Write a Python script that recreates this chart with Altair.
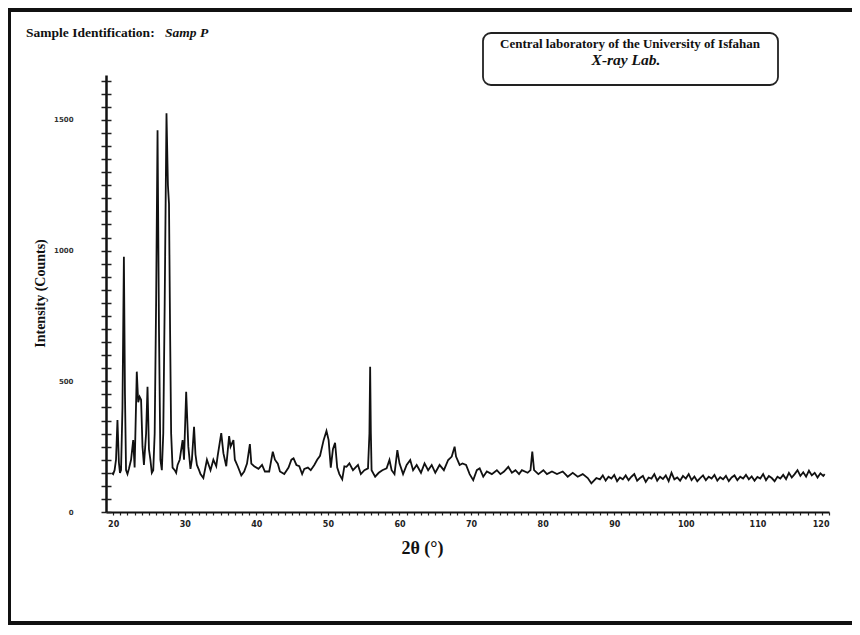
import altair as alt
import pandas as pd

# (2theta, counts)
low_angle = [
    (19.8, 150), (20.0, 145), (20.2, 160), (20.4, 200), (20.6, 352), (20.8, 190),
    (20.95, 150), (21.1, 160), (21.3, 400), (21.5, 977), (21.65, 450), (21.8, 160),
    (22.0, 145), (22.2, 165), (22.5, 200), (22.8, 275), (23.0, 170), (23.3, 537),
    (23.5, 420), (23.7, 441), (23.9, 430), (24.1, 250), (24.3, 180), (24.6, 300),
    (24.8, 479), (25.0, 240), (25.2, 200), (25.4, 150), (25.6, 160), (25.8, 300),
    (26.0, 800), (26.2, 1461), (26.4, 700), (26.6, 200), (26.8, 160), (27.0, 300),
    (27.2, 800), (27.45, 1526), (27.65, 1250), (27.8, 1180), (27.95, 700), (28.1, 300),
    (28.3, 170), (28.6, 160), (28.8, 150), (29.0, 180), (29.3, 200), (29.7, 275),
    (29.9, 200), (30.2, 460), (30.5, 250), (30.8, 165), (31.0, 200), (31.3, 326),
    (31.5, 220), (31.7, 180), (32.0, 160), (32.2, 145), (32.6, 130),
]
mid_angle = [
    (33.1, 200), (33.6, 160), (34.0, 200), (34.4, 175), (34.6, 215), (35.1, 302),
    (35.4, 225), (35.8, 175), (36.2, 290), (36.4, 250), (36.8, 275), (37.0, 200),
    (37.4, 175), (37.9, 140), (38.3, 155), (38.7, 185), (39.1, 260), (39.3, 185),
    (39.7, 175), (40.3, 165), (40.8, 180), (41.2, 155), (41.8, 155), (42.3, 231),
    (42.6, 200), (43.0, 185), (43.3, 155), (43.9, 145), (44.5, 170), (44.9, 200),
    (45.2, 205), (45.6, 180), (46.0, 175), (46.4, 145), (46.7, 165), (47.2, 170),
    (47.6, 160), (48.1, 180), (48.5, 200), (48.9, 215), (49.4, 275), (49.8, 310),
    (50.1, 275), (50.4, 170), (50.7, 240), (51.0, 265), (51.3, 170), (51.6, 145),
    (52.0, 125), (52.3, 175), (52.6, 173), (53.0, 186), (53.5, 160), (54.2, 180),
    (54.6, 145), (55.1, 160), (55.6, 167), (55.8, 300), (55.9, 556), (56.0, 300),
    (56.1, 160), (56.6, 135), (57.1, 150), (57.6, 160), (58.2, 167), (58.6, 199),
    (58.9, 160), (59.3, 145), (59.7, 237), (60.0, 186), (60.5, 145), (61.0, 180),
    (61.5, 199), (61.9, 160), (62.4, 180), (63.0, 150), (63.5, 186), (64.0, 160),
    (64.5, 180), (65.0, 150), (65.6, 180), (66.2, 160), (66.8, 199), (67.3, 212),
    (67.7, 250), (67.9, 212), (68.4, 180), (68.8, 186), (69.3, 180), (69.8, 145),
    (70.3, 122), (70.8, 160), (71.2, 167), (71.7, 135), (72.2, 155), (72.9, 145),
    (73.6, 160), (74.1, 145), (74.6, 155), (75.2, 173), (75.7, 150), (76.2, 160),
    (76.7, 145), (77.1, 160), (77.9, 150), (78.3, 160), (78.55, 231), (78.8, 160),
    (79.4, 145), (80.1, 160), (80.6, 145), (81.3, 155), (82.0, 145), (82.8, 155),
    (83.5, 135), (84.2, 150), (84.9, 135), (85.6, 145), (86.3, 130), (86.8, 110),
    (87.5, 130),
]
high_angle = [
    (88.0, 125), (88.4, 140), (88.8, 120), (89.2, 135), (89.6, 128), (90.0, 142),
    (90.4, 118), (90.8, 132), (91.2, 125), (91.6, 140), (92.0, 122), (92.4, 135),
    (92.8, 145), (93.2, 120), (93.6, 130), (94.0, 138), (94.4, 115), (94.8, 132),
    (95.2, 128), (95.6, 145), (96.0, 120), (96.4, 135), (96.8, 126), (97.2, 140),
    (97.6, 118), (98.0, 150), (98.4, 125), (98.8, 132), (99.2, 120), (99.6, 138),
    (100.0, 128), (100.4, 145), (100.8, 122), (101.2, 136), (101.6, 118), (102.0, 130),
    (102.4, 140), (102.8, 122), (103.2, 135), (103.6, 128), (104.0, 142), (104.4, 120),
    (104.8, 133), (105.2, 125), (105.6, 138), (106.0, 118), (106.4, 132), (106.8, 140),
    (107.2, 122), (107.6, 135), (108.0, 128), (108.4, 142), (108.8, 125), (109.2, 136),
    (109.6, 120), (110.0, 134), (110.4, 128), (110.8, 145), (111.2, 122), (111.6, 138),
    (112.0, 130), (112.4, 118), (112.8, 135), (113.2, 128), (113.6, 142), (114.0, 126),
    (114.4, 150), (114.8, 132), (115.2, 145), (115.6, 160), (116.0, 138), (116.4, 152),
    (116.8, 135), (117.2, 158), (117.6, 140), (118.0, 150), (118.4, 132), (118.8, 148),
    (119.2, 138), (119.4, 145),
]

y_label_values = [0, 500, 1000, 1500]
y_tick_values = list(range(0, 1651, 50))
x_tick_values = list(range(20, 121, 1))

rows = low_angle + mid_angle + high_angle
df = pd.DataFrame(rows, columns=["two_theta", "counts"])
one = pd.DataFrame({"k": [0]})

x_scale = alt.Scale(domain=[19, 120], nice=False, zero=False)
y_scale = alt.Scale(domain=[0, 1672], nice=False)

x_axis = alt.Axis(
    values=x_tick_values,
    labelExpr="datum.value % 10 === 0 ? datum.label : ''",
    labelOverlap=False,
    tickSize=3,
    tickWidth=1.2,
    tickColor="#222",
    domainColor="#111",
    domainWidth=2,
    labelFont="DejaVu Sans",
    labelFontWeight="bold",
    labelFontSize=8,
    labelColor="#222",
    labelPadding=5,
    grid=False,
    title="2θ (°)",
    titleFont="Liberation Serif",
    titleFontWeight="bold",
    titleFontSize=18,
    titleColor="#111",
    titleX=316,
    titleY=36,
    titleAlign="center",
    titleBaseline="middle",
)

line = alt.Chart(df).mark_line(color="#111111", strokeWidth=1.8).encode(
    x=alt.X("two_theta:Q", scale=x_scale, axis=x_axis),
    y=alt.Y(
        "counts:Q",
        scale=y_scale,
        axis=alt.Axis(
            values=y_tick_values,
            labelExpr="datum.value % 500 === 0 ? datum.label : ''",
            labelOverlap=False,
            format="d",
            tickSize=5,
            tickWidth=1.5,
            tickColor="#222",
            domainColor="#111",
            domainWidth=2.5,
            labelFont="DejaVu Sans",
            labelFontWeight="bold",
            labelFontSize=7,
            labelColor="#333",
            labelPadding=28,
            grid=False,
            title="Intensity (Counts)",
            titleFont="Liberation Serif",
            titleFontWeight="bold",
            titleFontSize=14,
            titleColor="#111",
            titleAngle=270,
            titleX=-66,
            titleY=218,
            titleAlign="center",
            titleBaseline="middle",
        ),
    ),
)

inner_ticks = alt.Chart(df).mark_line(opacity=0).encode(
    x=alt.X("two_theta:Q", scale=x_scale, axis=None),
    y=alt.Y(
        "counts:Q",
        scale=y_scale,
        axis=alt.Axis(
            orient="left",
            offset=-5,
            values=y_tick_values,
            labels=False,
            domain=False,
            tickSize=5,
            tickWidth=1.5,
            tickColor="#222",
            grid=False,
            title=None,
        ),
    ),
)

frame_top = alt.Chart(one).mark_rule(stroke="#111", strokeWidth=4).encode(
    x=alt.value(-97), x2=alt.value(760), y=alt.value(-65)
)
frame_left = alt.Chart(one).mark_rule(stroke="#111", strokeWidth=4).encode(
    x=alt.value(-97), y=alt.value(-67), y2=alt.value(550)
)
frame_bottom = alt.Chart(one).mark_rule(stroke="#111", strokeWidth=4).encode(
    x=alt.value(-99), x2=alt.value(760), y=alt.value(548)
)

box = alt.Chart(one).mark_rect(
    fillOpacity=0, stroke="#222", strokeWidth=1.8, cornerRadius=8
).encode(x=alt.value(377), x2=alt.value(672), y=alt.value(-42), y2=alt.value(10))

lab1 = alt.Chart(one).mark_text(
    font="Liberation Serif", fontWeight="bold", fontSize=13, color="#111",
    align="center", baseline="middle",
).encode(x=alt.value(524), y=alt.value(-31),
         text=alt.value("Central laboratory of the University of Isfahan"))

lab2 = alt.Chart(one).mark_text(
    font="Liberation Serif", fontWeight="bold", fontStyle="italic", fontSize=15.5,
    color="#111", align="center", baseline="middle",
).encode(x=alt.value(520), y=alt.value(-15), text=alt.value("X-ray Lab."))

sample1 = alt.Chart(one).mark_text(
    font="Liberation Serif", fontWeight="bold", fontSize=13.5, color="#111",
    align="left", baseline="middle",
).encode(x=alt.value(-80), y=alt.value(-42), text=alt.value("Sample Identification:"))

sample2 = alt.Chart(one).mark_text(
    font="Liberation Serif", fontWeight="bold", fontStyle="italic", fontSize=13.5,
    color="#111", align="left", baseline="middle",
).encode(x=alt.value(59), y=alt.value(-42), text=alt.value("Samp P"))

chart = (
    alt.layer(frame_top, frame_left, frame_bottom, box, line, inner_ticks,
              lab1, lab2, sample1, sample2)
    .resolve_axis(x="independent", y="independent")
    .properties(
        width=723,
        height=437,
        autosize=alt.AutoSizeParams(type="none"),
        padding={"left": 98, "top": 67, "right": 23, "bottom": 115},
        background="white",
    )
    .configure_view(strokeWidth=0)
)

chart.save("out.html", embed_options={"renderer": "svg", "actions": False})
